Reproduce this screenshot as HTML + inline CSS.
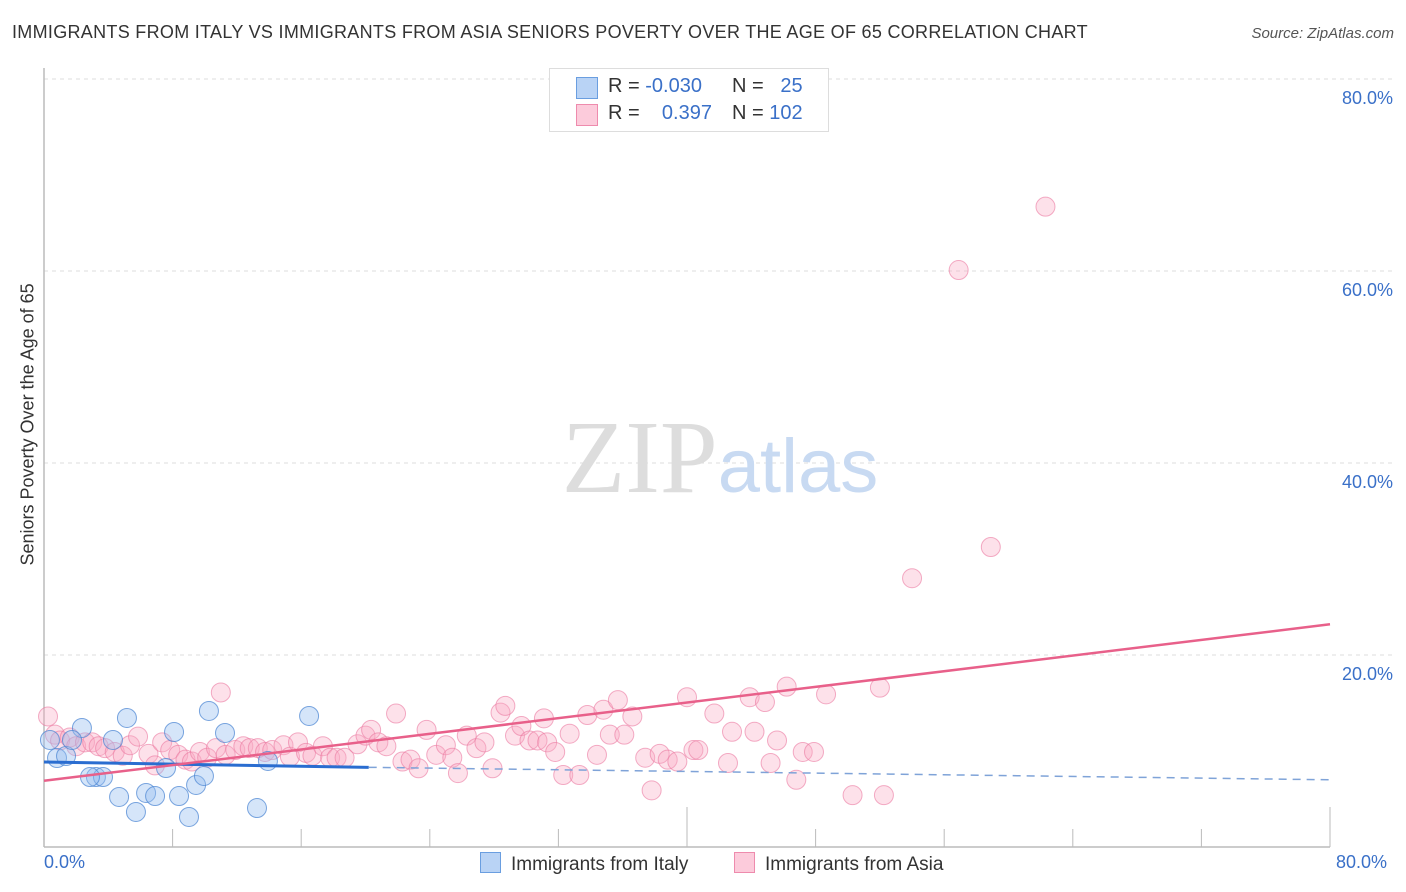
<!DOCTYPE html>
<html><head><meta charset="utf-8">
<style>
body{margin:0;background:#fff;font-family:"Liberation Sans",sans-serif;}
#wrap{position:relative;width:1406px;height:892px;overflow:hidden;}
.t{position:absolute;white-space:nowrap;}
</style></head>
<body>
<div id="wrap">
<div class="t" style="left:12px;top:22px;font-size:18px;letter-spacing:0.3px;color:#333;">IMMIGRANTS FROM ITALY VS IMMIGRANTS FROM ASIA SENIORS POVERTY OVER THE AGE OF 65 CORRELATION CHART</div>
<div class="t" style="right:12px;top:25px;font-size:15px;color:#555;font-style:italic;">Source: ZipAtlas.com</div>
<svg id="svg" width="1406" height="892" style="position:absolute;left:0;top:0;"></svg>
</div>
<script>
const italyX=[0.81,1.37,2.36,1.74,4.29,5.16,3.23,3.67,2.86,4.67,5.72,6.35,6.91,7.59,8.09,8.40,9.02,9.46,9.95,10.26,11.26,13.25,13.93,16.49,0.37];
const italyY=[9.27,9.48,12.40,11.15,11.15,13.44,7.29,7.29,7.29,5.21,3.65,5.63,5.31,8.23,11.98,5.31,3.13,6.46,7.40,14.17,11.88,4.06,8.96,13.65,11.15];
const asiaX=[0.25,0.68,1.0,1.6,2.0,2.55,3.0,3.4,3.8,4.4,4.9,5.35,5.85,6.5,6.9,7.35,7.85,8.35,8.8,9.2,9.7,10.15,10.7,11.0,11.3,11.9,12.4,12.8,13.3,13.75,14.2,14.9,15.3,15.8,16.3,16.7,17.35,17.8,18.2,18.7,19.5,20.0,20.35,20.8,21.3,21.9,22.3,22.8,23.3,23.8,24.4,25.0,25.4,25.75,26.3,26.9,27.4,27.9,28.4,28.7,29.3,29.7,30.2,30.7,31.1,31.3,31.8,32.3,32.7,33.3,33.8,34.4,34.8,35.2,35.7,36.1,36.6,37.4,37.8,38.3,38.8,39.4,40.0,40.4,40.7,41.7,42.55,42.8,43.9,44.2,44.85,45.2,45.6,46.2,46.8,47.2,47.9,48.65,50.3,52.0,52.25,54.0,56.9,58.9,62.3];
const asiaY=[13.6,11.7,11.1,11.4,10.5,10.9,10.9,10.5,10.3,9.9,9.5,10.6,11.5,9.7,8.5,10.9,10.1,9.6,9.1,8.9,9.9,9.3,10.3,16.1,9.6,10.1,10.5,10.3,10.3,9.9,10.1,10.6,9.4,10.9,9.8,9.5,10.5,9.3,9.3,9.3,10.7,11.6,12.2,10.9,10.5,13.9,8.9,9.1,8.2,12.2,9.6,10.6,9.3,7.7,11.6,10.3,10.9,8.2,14.0,14.7,11.6,12.6,11.1,11.1,13.4,10.9,9.9,7.5,11.8,7.5,13.75,9.6,14.3,11.7,15.3,11.7,13.6,9.3,5.9,9.7,9.1,8.9,15.6,10.1,10.1,13.9,8.75,12.0,15.6,12.0,15.1,8.75,11.1,16.7,7.0,9.9,9.9,15.9,5.4,16.6,5.4,28.0,60.1,31.25,66.7];
const yTicks=[20,40,60,80];
const yTickLabels=["20.0%","40.0%","60.0%","80.0%"];
const italyTrend=[8.85,8.3,7.0];
const italyTrendX=[0,20.2,80];
const asiaTrend=[6.9,23.2];
const NS="http://www.w3.org/2000/svg";
const svg=document.getElementById('svg');
const X=v=>44+v*16.075, Y=v=>847-v*9.6;
function mk(tag,attrs){const e=document.createElementNS(NS,tag);for(const k in attrs)e.setAttribute(k,attrs[k]);svg.appendChild(e);return e;}
yTicks.forEach((t,i)=>{
  const g=mk('line',{x1:44,x2:1394,y1:Y(t),y2:Y(t),stroke:'#ddd','stroke-dasharray':'4,4'});
  
  
  const tx=mk('text',{x:1393,y:Y(t)+25,'text-anchor':'end','font-size':18,fill:'#3a70c8','font-family':'Liberation Sans, sans-serif'});
  tx.textContent=yTickLabels[i];
  
  
});
const ax=mk('line',{x1:44,x2:44,y1:68,y2:847,stroke:'#bbb','stroke-width':1.5});


const bx=mk('line',{x1:44,x2:1330,y1:847,y2:847,stroke:'#bbb','stroke-width':1.5});


for(let i=1;i<=10;i++){const v=i*8;const tk=mk('line',{x1:X(v),x2:X(v),y1:(i%5==0)?807:829,y2:847,stroke:'#bbb'});

}
const wm=mk('text',{x:720,y:492,'text-anchor':'middle','font-size':104,'font-family':'Liberation Serif, serif',fill:'#ddd'});
wm.innerHTML='ZIP<tspan fill="#c8daf2" font-family="Liberation Sans, sans-serif" font-size="76">atlas</tspan>';


asiaX.forEach((x,i)=>{const c=mk('circle',{cx:X(x),cy:Y(asiaY[i]),r:9.5,fill:'rgba(248,170,195,0.35)',stroke:'rgba(235,120,160,0.6)','stroke-width':1});

});
italyX.forEach((x,i)=>{const c=mk('circle',{cx:X(x),cy:Y(italyY[i]),r:9.5,fill:'rgba(150,190,240,0.4)',stroke:'rgba(70,130,210,0.7)','stroke-width':1});

});
const l1=mk('line',{x1:X(italyTrendX[0]),y1:Y(italyTrend[0]),x2:X(italyTrendX[1]),y2:Y(italyTrend[1]),stroke:'#2a6dd0','stroke-width':3});


const l2=mk('line',{x1:X(italyTrendX[1]),y1:Y(italyTrend[1]),x2:X(italyTrendX[2]),y2:Y(italyTrend[2]),stroke:'#7fa3d8','stroke-width':1.5,'stroke-dasharray':'8,6'});


const l3=mk('line',{x1:X(0),y1:Y(asiaTrend[0]),x2:X(80),y2:Y(asiaTrend[1]),stroke:'#e8608a','stroke-width':2.5});


</script>
<div class="t" style="left:-82px;top:445px;font-size:18px;color:#333;transform:rotate(-90deg);width:220px;text-align:center;">Seniors Poverty Over the Age of 65</div>
<div class="t" style="left:44px;top:852px;font-size:18px;color:#3a70c8;">0.0%</div>
<div class="t" style="left:1336px;top:852px;font-size:18px;color:#3a70c8;">80.0%</div>
<div style="position:absolute;left:549px;top:68px;width:278px;height:62px;border:1px solid #ddd;background:#fff;font-size:20px;">
  <div style="position:absolute;left:26px;top:8px;width:20px;height:20px;background:#b9d3f5;border:1px solid #6a9ee0;"></div>
  <div class="t" style="left:58px;top:6px;color:#333;">R = <span style="color:#3a70c8">-0.030</span></div>
  <div class="t" style="left:182px;top:6px;color:#333;">N = <span style="color:#3a70c8">&nbsp;&nbsp;25</span></div>
  <div style="position:absolute;left:26px;top:35px;width:20px;height:20px;background:#fccbdb;border:1px solid #ee8bad;"></div>
  <div class="t" style="left:58px;top:33px;color:#333;">R = <span style="color:#3a70c8">&nbsp;&nbsp;&nbsp;0.397</span></div>
  <div class="t" style="left:182px;top:33px;color:#333;">N = <span style="color:#3a70c8">102</span></div>
</div>
<div style="position:absolute;left:480px;top:852px;font-size:19px;color:#333;">
  <div style="position:absolute;left:0;top:0;white-space:nowrap;"><span style="display:inline-block;width:19px;height:19px;background:#b9d3f5;border:1px solid #6a9ee0;vertical-align:-3px;margin-right:10px;"></span>Immigrants from Italy</div>
  <div style="position:absolute;left:254px;top:0;white-space:nowrap;"><span style="display:inline-block;width:19px;height:19px;background:#fccbdb;border:1px solid #ee8bad;vertical-align:-3px;margin-right:10px;"></span>Immigrants from Asia</div>
</div>
</body></html>
